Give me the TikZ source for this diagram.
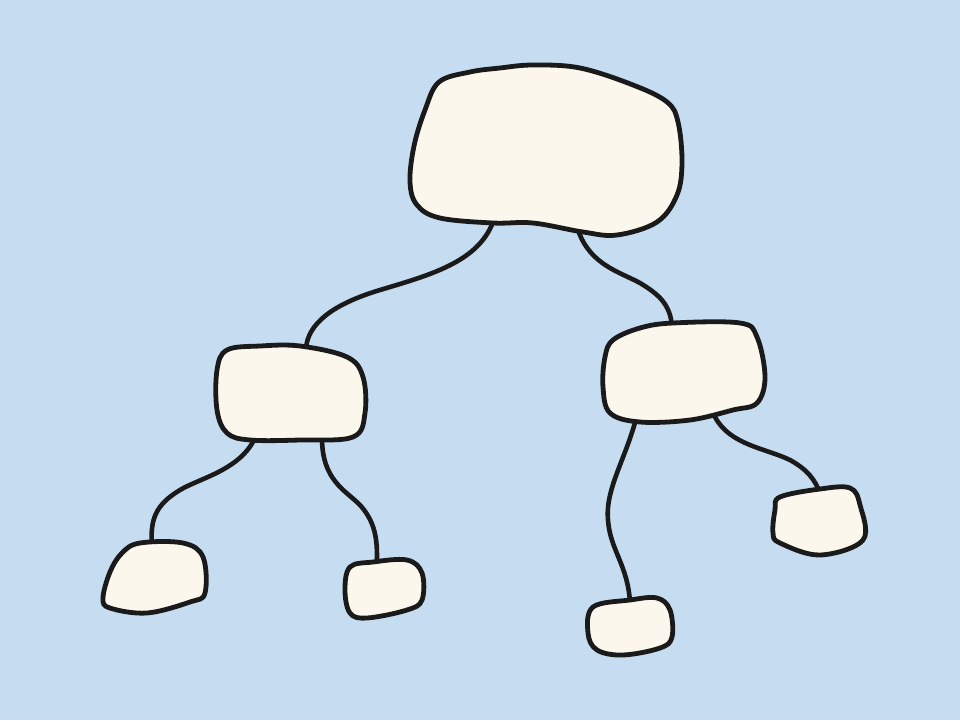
\documentclass[tikz,border=0pt]{standalone}
\definecolor{bgblue}{HTML}{C6DCF0}
\definecolor{cream}{HTML}{FBF7ED}
\definecolor{ink}{HTML}{1A1A1A}
\tikzset{
  blob/.style={draw=ink, fill=cream, line width=4.8pt, line join=round},
  link/.style={draw=ink, line width=4.6pt, line cap=round}
}
\begin{document}
\begin{tikzpicture}[x=1pt,y=-1pt]
\fill[bgblue] (0,0) rectangle (960,720);
\useasboundingbox (0,0) rectangle (960,720);
% attachment points
\coordinate (topL) at (493,222);
\coordinate (topR) at (578,230);
\coordinate (lmT) at (306,348);
\coordinate (lmBL) at (255,438);
\coordinate (lmBR) at (322,438);
\coordinate (rmT) at (672,326);
\coordinate (rmBL) at (636,419);
\coordinate (rmBR) at (715,417);
\coordinate (b1T) at (152,546);
\coordinate (b2T) at (377,565);
\coordinate (b3T) at (630,603);
\coordinate (b4T) at (820,493);
% connectors
\draw[link] (topL) .. controls (478,262) and (430,275) .. (380,290) .. controls (330,305) and (308,325) .. (lmT);
\draw[link] (topR) .. controls (590,265) and (620,272) .. (640,283) .. controls (660,295) and (670,305) .. (rmT);
\draw[link] (lmBL) .. controls (240,470) and (200,478) .. (180,490) .. controls (155,505) and (150,520) .. (b1T);
\draw[link] (lmBR) .. controls (322,480) and (345,490) .. (360,505) .. controls (378,525) and (377,545) .. (b2T);
\draw[link] (rmBL) .. controls (625,460) and (605,490) .. (608,520) .. controls (610,550) and (628,565) .. (b3T);
\draw[link] (rmBR) .. controls (730,445) and (765,448) .. (790,460) .. controls (808,470) and (815,480) .. (b4T);
% blobs
\draw[blob] plot[smooth cycle, tension=0.6] coordinates {(439,82) (470,72) (500,68) (533,65) (580,68) (633,85) (667,102) (678,122) (682,162) (677,195) (657,222) (617,235) (583,232) (533,223) (493,223) (440,218) (417,205) (410,182) (414,146) (425,110)};
\draw[blob] plot[smooth cycle, tension=0.6] coordinates {(227,350) (260,346) (300,346) (347,357) (363,377) (365,413) (353,437) (300,440) (250,440) (227,433) (217,410) (217,370)};
\draw[blob] plot[smooth cycle, tension=0.6] coordinates {(613,340) (640,328) (673,323) (740,323) (757,337) (765,377) (757,403) (733,410) (690,420) (640,422) (610,413) (603,387) (605,357)};
\draw[blob] plot[smooth cycle, tension=0.6] coordinates {(103,598) (110,572) (122,553) (140,543) (183,543) (203,557) (205,593) (190,602) (147,613) (110,608)};
\draw[blob] plot[smooth cycle, tension=0.6] coordinates {(350,567) (373,562) (407,560) (422,573) (422,600) (407,610) (367,618) (350,613) (345,590)};
\draw[blob] plot[smooth cycle, tension=0.6] coordinates {(593,607) (630,600) (657,598) (670,610) (672,637) (660,648) (623,655) (597,650) (588,633)};
\draw[blob] plot[smooth cycle, tension=0.6] coordinates {(780,497) (820,489) (850,488) (860,505) (863,540) (820,555) (780,543) (773,533) (775,510)};
\end{tikzpicture}
\end{document}
